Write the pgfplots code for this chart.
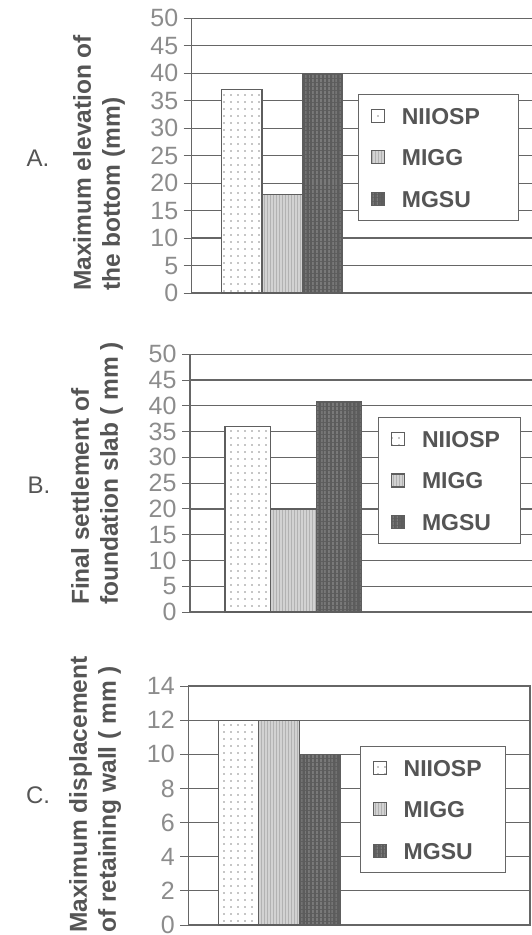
\documentclass[border=0pt]{standalone}
\usepackage{fontspec}
\setmainfont{Liberation Sans}
\usepackage{pgfplots}
\pgfplotsset{compat=1.18}
\usetikzlibrary{patterns,patterns.meta}

\definecolor{gridc}{HTML}{666666}
\definecolor{tickc}{HTML}{8C8C8C}
\definecolor{labc}{HTML}{555555}
\definecolor{barc}{HTML}{5E5E5E}
\definecolor{miggc}{HTML}{D2D2D2}
\definecolor{mgsuc}{HTML}{5C5C5C}

\pgfplotsset{
  panel/.style={
    scale only axis, anchor=south west,
    ybar, bar width=1,
    ymin=0,
    xtick=\empty,
    ytick pos=left,
    tick align=outside,
    major tick length=8pt,
    tick style={draw=gridc, line width=1pt},
    axis line style={draw=gridc, line width=1.2pt},
    ymajorgrids,
    major grid style={draw=gridc, line width=1.2pt},
    yticklabel style={font=\fontsize{25}{25}\selectfont, text=tickc, xshift=-2pt},
    /pgf/number format/assume math mode=true,
    legend cell align=left,
    legend image code/.code={\draw[#1] (0pt,-6.5pt) rectangle (13pt,6.5pt); \path (28pt,0pt);},
    legend style={draw=gridc, line width=1pt, fill=white,
      font=\bfseries\fontsize{23}{23}\selectfont, text=labc,
      anchor=north west, inner xsep=12pt, inner ysep=11pt, row sep=21pt,
      nodes={inner sep=2pt, text height=16.5pt, text depth=0pt}},
  },
  niiosp/.style={fill=white, draw=barc, line width=1.2pt, bar shift=0pt,
    postaction={pattern={Dots[distance=7pt, radius=0.8pt]}, pattern color=gray!90}},
  migg/.style={fill=miggc, draw=barc, line width=1.2pt, bar shift=0pt,
    postaction={pattern={Lines[angle=90, distance=3pt, line width=0.7pt]}, pattern color=gray!60}},
  mgsu/.style={fill=mgsuc, draw=barc, line width=1.2pt, bar shift=0pt,
    postaction={pattern={Lines[angle=90, distance=4pt, line width=0.8pt]}, pattern color=gray!90!black}},
}

\begin{document}
\begin{tikzpicture}
\path[use as bounding box] (0pt,0pt) rectangle (532pt,-935pt);

% Panel A
\begin{axis}[panel,
  at={(191.7pt,-293pt)}, width=348.3pt, height=274.7pt,
  xmin=-0.238, xmax=8.383, ymax=50, ytick={0,5,...,50},
  legend style={at={(0.478,0.724)}, nodes={text width=103pt}}]
\addplot[niiosp] coordinates {(1,37)};
\addplot[migg] coordinates {(2,18)};
\addplot[mgsu] coordinates {(3,40)};
\legend{NIIOSP, MIGG, MGSU}
\end{axis}

% Panel B
\begin{axis}[panel,
  at={(190pt,-612pt)}, width=350pt, height=257.7pt,
  xmin=-0.268, xmax=7.412, ymax=50, ytick={0,5,...,50},
  legend style={at={(0.538,0.7555)}, nodes={text width=84pt}}]
\addplot[niiosp] coordinates {(1,36)};
\addplot[migg] coordinates {(2,20)};
\addplot[mgsu] coordinates {(3,40.8)};
\legend{NIIOSP, MIGG, MGSU}
\end{axis}

% Panel C
\begin{axis}[panel,
  at={(188.3pt,-925pt)}, width=341.7pt, height=239pt,
  xmin=-0.24, xmax=8.182, ymax=14, ytick={0,2,...,14},
  legend style={at={(0.5025,0.749)}, nodes={text width=88pt}}]
\addplot[niiosp] coordinates {(1,12)};
\addplot[migg] coordinates {(2,12)};
\addplot[mgsu] coordinates {(3,10)};
\legend{NIIOSP, MIGG, MGSU}
\end{axis}

\begin{scope}[every node/.style={inner sep=0pt, text=labc}]
\node[rotate=90, anchor=north west, align=left, font=\bfseries\fontsize{24.5}{29}\selectfont]
  at (73pt,-291pt) {Maximum elevation of\\the bottom (mm)};
\node[rotate=90, anchor=north west, align=left, font=\bfseries\fontsize{24.5}{29}\selectfont]
  at (71pt,-605pt) {Final settlement of\\foundation slab ( mm )};
\node[rotate=90, anchor=north west, align=left, font=\bfseries\fontsize{24.5}{29}\selectfont]
  at (69pt,-933pt) {Maximum displacement\\of retaining wall ( mm )};
\node[font=\fontsize{24}{24}\selectfont] at (38pt,-158pt) {A.};
\node[font=\fontsize{24}{24}\selectfont] at (39pt,-485pt) {B.};
\node[font=\fontsize{24}{24}\selectfont] at (38pt,-795pt) {C.};
\end{scope}
\end{tikzpicture}
\end{document}
